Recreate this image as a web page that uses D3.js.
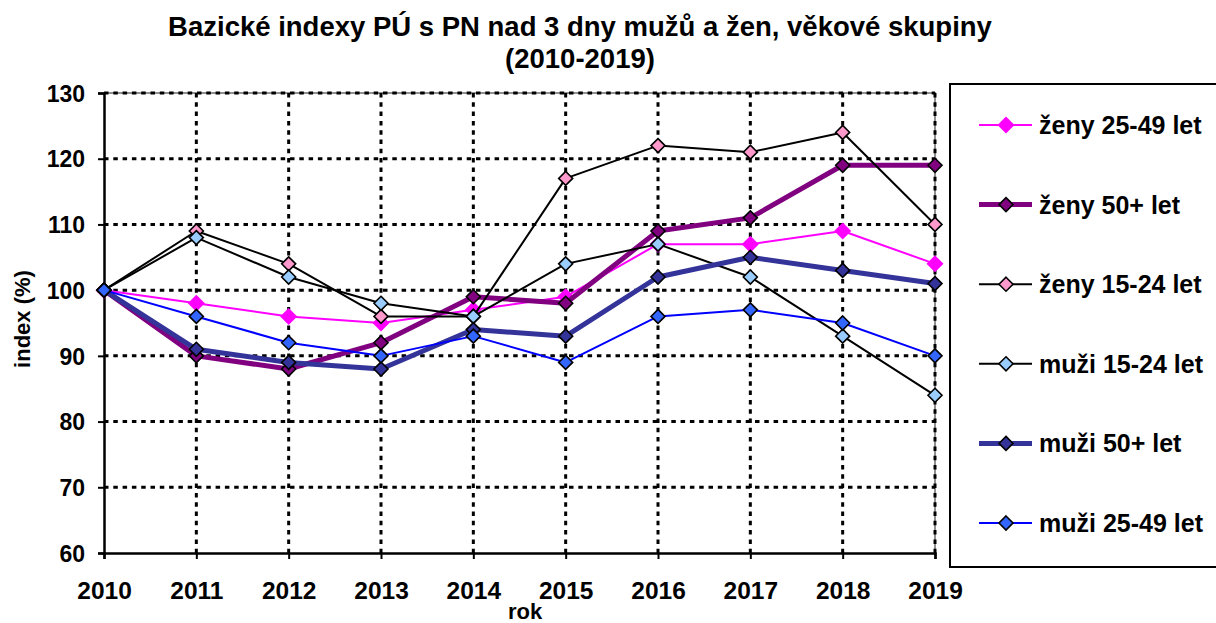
<!DOCTYPE html>
<html>
<head>
<meta charset="utf-8">
<script src="https://d3js.org/d3.v7.min.js"></script>
<style>
  body { margin: 0; background: #fff; }
  text { font-family: "Liberation Sans", Arial, sans-serif; font-weight: bold; fill: #000; }
</style>
</head>
<body>
<script>
// data
var years = [2010, 2011, 2012, 2013, 2014, 2015, 2016, 2017, 2018, 2019];
var yTicks = [60, 70, 80, 90, 100, 110, 120, 130];

var zeny2549 = [100, 98, 96, 95, 97, 99, 107, 107, 109, 104];
var zeny50   = [100, 90, 88, 92, 99, 98, 109, 111, 119, 119];
var zeny1524 = [100, 109, 104, 96, 96, 117, 122, 121, 124, 110];
var muzi1524 = [100, 108, 102, 98, 96, 104, 107, 102, 93, 84];
var muzi50   = [100, 91, 89, 88, 94, 93, 102, 105, 103, 101];
var muzi2549 = [100, 96, 92, 90, 93, 89, 96, 97, 95, 90];

var seriesNames = ["ženy 25-49 let", "ženy 50+ let", "ženy 15-24 let",
                   "muži 15-24 let", "muži 50+ let", "muži 25-49 let"];

var series = [
  {name: seriesNames[0], values: zeny2549, line: "#ff00ff", lw: 2, fill: "#ff00ff", outline: null},
  {name: seriesNames[1], values: zeny50,   line: "#800080", lw: 5, fill: "#800080", outline: "#000"},
  {name: seriesNames[2], values: zeny1524, line: "#000000", lw: 2, fill: "#ff99cc", outline: "#000"},
  {name: seriesNames[3], values: muzi1524, line: "#000000", lw: 2, fill: "#99ccff", outline: "#000"},
  {name: seriesNames[4], values: muzi50,   line: "#333399", lw: 5, fill: "#333399", outline: "#000"},
  {name: seriesNames[5], values: muzi2549, line: "#0000ff", lw: 2, fill: "#3366ff", outline: "#000"}
];

var W = 1216, H = 623;
var svg = d3.select("body").append("svg").attr("width", W).attr("height", H);

var x = d3.scaleLinear().domain([2010, 2019]).range([104, 935]);
var y = d3.scaleLinear().domain([60, 130]).range([553, 93]);

// title
svg.append("text").attr("x", 580).attr("y", 36).attr("text-anchor", "middle")
  .style("font-size", "27.5px").text("Bazické indexy PÚ s PN nad 3 dny mužů a žen, věkové skupiny");
svg.append("text").attr("x", 580).attr("y", 68).attr("text-anchor", "middle")
  .style("font-size", "27.5px").text("(2010-2019)");

// plot area border (grey)
svg.append("path")
  .attr("d", "M" + x(2010) + "," + y(130) + "H" + x(2019) + "V" + y(60))
  .attr("fill", "none").attr("stroke", "#909090").attr("stroke-width", 2);

// gridlines
svg.append("g").selectAll("line").data(yTicks.slice(1)).enter().append("line")
  .attr("x1", x(2010)).attr("x2", x(2019))
  .attr("y1", function (d) { return y(d); }).attr("y2", function (d) { return y(d); })
  .attr("stroke", "#000").attr("stroke-width", 3).attr("stroke-dasharray", "4.5,4.8");
svg.append("g").selectAll("line").data(years.slice(1)).enter().append("line")
  .attr("x1", function (d) { return x(d); }).attr("x2", function (d) { return x(d); })
  .attr("y1", y(130)).attr("y2", y(60))
  .attr("stroke", "#000").attr("stroke-width", 3).attr("stroke-dasharray", "4.5,4.8");

// axes
var yAxis = d3.axisLeft(y).tickValues(yTicks).tickSize(6).tickPadding(13);
var gy = svg.append("g").attr("transform", "translate(" + x(2010) + ",0)").call(yAxis);
gy.select(".domain").attr("stroke", "#000").attr("stroke-width", 2.5);
gy.selectAll(".tick line").attr("stroke", "#000").attr("stroke-width", 2);
gy.selectAll(".tick text").style("font-size", "23px").style("font-family", "Liberation Sans").style("font-weight", "bold").attr("dy", "0.36em");

var xAxis = d3.axisBottom(x).tickValues(years).tickFormat(d3.format("d")).tickSize(6).tickPadding(23);
var gx = svg.append("g").attr("transform", "translate(0," + y(60) + ")").call(xAxis);
gx.select(".domain").attr("stroke", "#000").attr("stroke-width", 2.5);
gx.selectAll(".tick line").attr("stroke", "#000").attr("stroke-width", 2);
gx.selectAll(".tick text").style("font-size", "24.5px").style("font-family", "Liberation Sans").style("font-weight", "bold");

// axis titles
svg.append("text").attr("transform", "translate(30,319) rotate(-90)").attr("text-anchor", "middle")
  .style("font-size", "22px").text("index (%)");
svg.append("text").attr("x", 525).attr("y", 619).attr("text-anchor", "middle")
  .style("font-size", "22px").text("rok");

// series
var line = d3.line().x(function (d, i) { return x(years[i]); }).y(function (d) { return y(d); });
var diamond = function (cx, cy, r) {
  return "M" + cx + "," + (cy - r) + "L" + (cx + r) + "," + cy + "L" + cx + "," + (cy + r) + "L" + (cx - r) + "," + cy + "Z";
};

series.forEach(function (s) {
  var g = svg.append("g");
  g.append("path").attr("d", line(s.values)).attr("fill", "none")
    .attr("stroke", s.line).attr("stroke-width", s.lw).attr("stroke-linejoin", "round");
  g.selectAll("path.m").data(s.values).enter().append("path").attr("class", "m")
    .attr("d", function (d, i) { return diamond(x(years[i]), y(d), s.outline ? 7 : 8.5); })
    .attr("fill", s.fill)
    .attr("stroke", s.outline || "none").attr("stroke-width", 1.6);
});

// legend
var lg = svg.append("g");
lg.append("rect").attr("x", 950).attr("y", 84).attr("width", 300).attr("height", 483)
  .attr("fill", "#fff").attr("stroke", "#000").attr("stroke-width", 2);
series.forEach(function (s, i) {
  var cy = 125 + i * 79.6;
  lg.append("line").attr("x1", 979).attr("x2", 1032).attr("y1", cy).attr("y2", cy)
    .attr("stroke", s.line).attr("stroke-width", s.lw);
  lg.append("path").attr("d", diamond(1006, cy, s.outline ? 7 : 8.5)).attr("fill", s.fill)
    .attr("stroke", s.outline || "none").attr("stroke-width", 1.6);
  lg.append("text").attr("x", 1039).attr("y", cy).attr("dy", "0.36em")
    .style("font-size", "25px").text(s.name);
});
</script>
</body>
</html>
